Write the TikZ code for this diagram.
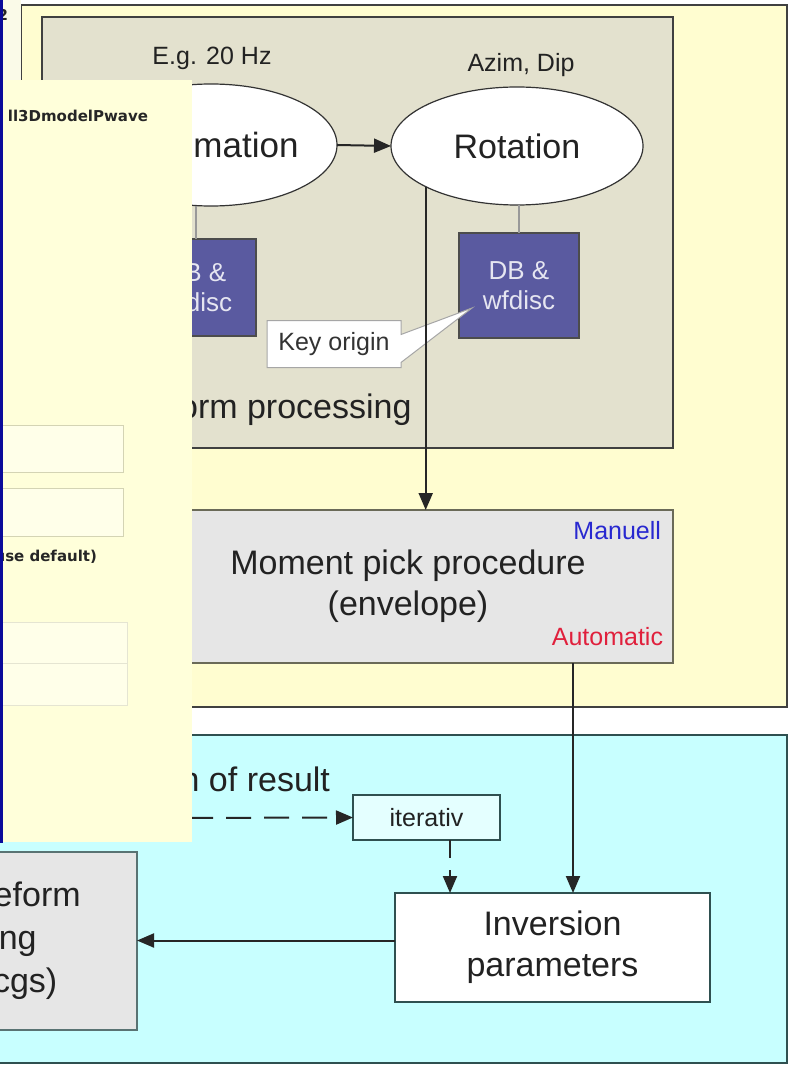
\documentclass[tikz,border=0pt]{standalone}
\usepackage{fontspec}
\setmainfont{Liberation Sans}
\newfontfamily\dlgfont{DejaVu Sans}
\usetikzlibrary{shapes.geometric,shapes.callouts,arrows.meta,calc}
\definecolor{panelY}{HTML}{FFFDD0}
\definecolor{panelG}{HTML}{E3E1CE}
\definecolor{panelC}{HTML}{C8FFFF}
\definecolor{dlgY}{HTML}{FFFFDA}
\definecolor{dlgTop}{HTML}{FAFAE8}
\definecolor{dlgEdge}{HTML}{D4D4B4}
\definecolor{dbblue}{HTML}{5A5AA0}
\definecolor{boxgray}{HTML}{E6E6E6}
\definecolor{txt}{HTML}{222222}
\definecolor{manblue}{HTML}{2828D0}
\definecolor{autored}{HTML}{E0203C}
\definecolor{boxedge}{HTML}{6A6A58}
\definecolor{tealedge}{HTML}{2F5050}
\definecolor{itercyan}{HTML}{E4FFFF}
\definecolor{dlgblue}{HTML}{0A0A9A}
\begin{document}
\begin{tikzpicture}[x=1pt,y=-1pt,
  every node/.style={text=txt, inner sep=0pt, outer sep=0pt},
  bigtxt/.style={font=\fontsize{34}{41}\selectfont},
  midtxt/.style={font=\fontsize{25}{30}\selectfont},
  dlgtxt/.style={font=\dlgfont\bfseries\fontsize{15}{18}\selectfont, text=black!85},
  panel/.style={draw=black!75, line width=1.5pt},
  ellnode/.style={ellipse, draw=black!80, line width=1.2pt, fill=white, bigtxt},
  dbbox/.style={rectangle, draw=black!70, line width=1.2pt, fill=dbblue, text=white!85!dbblue, align=center, font=\fontsize{26}{30}\selectfont},
  thinline/.style={draw=black!40, line width=1.5pt},
  conn/.style={line width=2pt, draw=black!85, -{Triangle[length=17pt,width=14pt]}},
  dconn/.style={conn, dash pattern=on 25pt off 13pt},
  dlgbox/.style={draw=dlgEdge, line width=1pt, fill=dlgY!60!white}
]
\useasboundingbox (0,0) rectangle (789,1067);
\clip (0,0) rectangle (789,1067);
\fill[white] (0,0) rectangle (789,1067);

% panels
\draw[panel, fill=panelY] (21,5) rectangle (787,707);
\draw[panel, fill=panelG] (42,17) rectangle (673,448);
\draw[panel, draw=tealedge, fill=panelC] (-5,735) rectangle (787,1063);

% waveform processing
\node[midtxt] (eg) at (212,58) {E.g. 20 Hz};
\node[midtxt] (azim) at (521,65) {Azim, Dip};
\node[ellnode, minimum width=252pt, minimum height=122pt, font=\fontsize{35}{41}\selectfont] (dec) at (211,145) {Decimation};
\node[ellnode, minimum width=252pt, minimum height=118pt] (rot) at (517,146) {Rotation};
\node[dbbox, minimum width=120pt, minimum height=97pt] (dbl) at (196,287.5) {DB \&\\wfdisc};
\node[dbbox, minimum width=120pt, minimum height=105pt] (dbr) at (519,285.5) {DB \&\\wfdisc};
\draw[thinline] (dbl.north) -- (dbl.north |- dec.south);
\draw[thinline] (dbr.north) -- (dbr.north |- rot.south);
\draw[conn] (dec.east) -- (rot.west);
\coordinate (keytip) at (472,308);
\node[rectangle callout, callout absolute pointer={(keytip)}, callout pointer width=28pt, fill=white, draw=black!35, line width=1pt,
  minimum width=134pt, minimum height=47pt, midtxt, text=black!80] (key) at (334,344) {Key origin};
\node[bigtxt, anchor=west] (wfp) at (84,410) {Waveform processing};

% moment pick
\node[rectangle, draw=boxedge, line width=1.5pt, fill=boxgray, minimum width=530pt, minimum height=153pt,
  bigtxt, align=center] (moment) at (408,586.5) {Moment pick procedure\\(envelope)};
\node[midtxt, text=manblue, anchor=east] (man) at (661,531) {Manuell};
\node[midtxt, text=autored, anchor=east] (auto) at (663,637) {Automatic};
\draw[conn] (rot.204) -- (rot.204 |- moment.north);

% inversion panel
\node[rectangle, draw=tealedge, line width=1.5pt, fill=white, minimum width=315pt, minimum height=109pt,
  bigtxt, align=center] (inv) at (552.5,947.5) {Inversion\\parameters};
\node[rectangle, draw=tealedge, line width=1.2pt, fill=itercyan, minimum width=147pt, minimum height=45pt,
  midtxt] (iter) at (426.5,817.5) {iterativ};
\node[bigtxt, anchor=east] (eval) at (330,779) {Evaluation of result};
\node[rectangle, draw=tealedge!80, line width=1.5pt, fill=boxgray, minimum width=210pt, minimum height=178pt,
  text width=210pt, align=left, font=\fontsize{34}{43}\selectfont] (lbox) at (32,941) {Waveform\\plotting\\(via cgs)};

\coordinate (m1) at ($(moment.south)+(165,0)$);
\draw[conn] (m1) -- (m1 |- inv.north);
\coordinate (dstart) at (150,818);
\draw[dconn] (dstart) -- (iter.west);
\coordinate (id) at ($(iter.south)+(23.5,0)$);
\draw[dconn, dash pattern=on 18pt off 12pt] (id) -- (id |- inv.north);
\coordinate (ia) at ($(inv.west)+(0,-7)$);
\draw[conn] (ia) -- (ia -| lbox.east);

% overlapping dialog
\fill[dlgTop] (0,0) rectangle (21,80);
\fill[dlgY] (0,80) rectangle (192,842);
\draw[dlgbox] (-5,425) rectangle (123,472);
\draw[dlgbox] (-5,488) rectangle (123,536);
\draw[dlgbox, draw=dlgEdge!60] (-5,622) rectangle (127,663);
\draw[dlgbox, draw=dlgEdge!60] (-5,663) rectangle (127,705);
\node[dlgtxt, anchor=east] (d0) at (8,15) {2};
\node[dlgtxt, anchor=east] (d1) at (148,116) {ll3DmodelPwave};
\node[dlgtxt, anchor=east] (d2) at (97,557) {(use default)};
\fill[dlgblue] (0,0) rectangle (2.5,843);
\end{tikzpicture}
\end{document}
